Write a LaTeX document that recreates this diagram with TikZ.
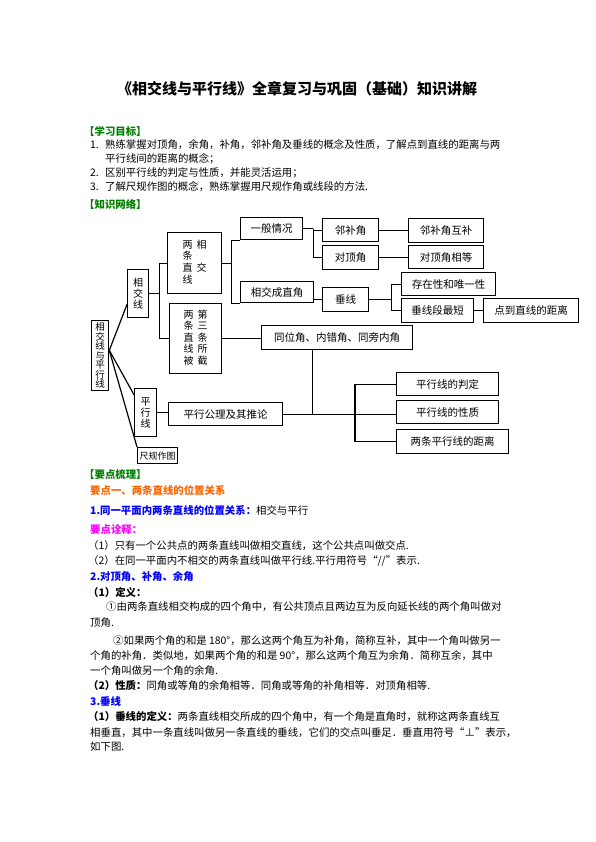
\documentclass[tikz,border=0pt]{standalone}
\usepackage{fontspec}
\setmainfont{Noto Sans CJK SC}
\definecolor{kgreen}{RGB}{0,128,0}
\definecolor{korange}{RGB}{255,102,0}
\definecolor{kblue}{RGB}{0,0,255}
\definecolor{kmag}{RGB}{255,0,255}
\tikzset{box/.style={draw, line width=1.3pt, inner sep=0pt, anchor=north west,
    font=\fontsize{10.5}{11}\selectfont}}
\tikzset{vbox/.style={box, align=center, font=\fontsize{10}{10.7}\selectfont}}
\tikzset{conn/.style={line width=1.2pt}}
\tikzset{txt/.style={anchor=west, inner sep=0pt, font=\fontsize{10.4}{12}\selectfont}}
\tikzset{head/.style={txt, font=\fontsize{10.4}{12}\selectfont\bfseries}}

\begin{document}
\begin{tikzpicture}[x=1pt, y=-1pt]
    \fill[white] (0,0) rectangle (595,842);
    \useasboundingbox (0,0) rectangle (595,842);

    % header text
    \node[font=\fontsize{15}{17}\selectfont\bfseries, inner sep=0pt] (ttl) at (297,89) {《相交线与平行线》全章复习与巩固（基础）知识讲解};
    \node[head, text=kgreen] (xxmb) at (84,131) {【学习目标】};
    \node[txt] (m1) at (90,145) {\makebox[15pt][l]{1.}熟练掌握对顶角，余角，补角，邻补角及垂线的概念及性质，了解点到直线的距离与两};
    \node[txt] (m1b) at (105,159) {平行线间的距离的概念；};
    \node[txt] (m2) at (90,173) {\makebox[15pt][l]{2.}区别平行线的判定与性质，并能灵活运用；};
    \node[txt] (m3) at (90,187) {\makebox[15pt][l]{3.}了解尺规作图的概念，熟练掌握用尺规作角或线段的方法.};
    \node[head, text=kgreen] (zswl) at (84,204) {【知识网络】};

    % boxes
    \node[vbox, minimum width=17pt, minimum height=70pt, font=\fontsize{9.5}{9.5}\selectfont] (main) at (91,320) {相\\交\\线\\与\\平\\行\\线};
    \node[vbox, minimum width=21pt, minimum height=48pt, font=\fontsize{10}{11}\selectfont] (xjx) at (127,269) {相\\交\\线};
    \node[vbox, minimum width=22pt, minimum height=48pt, font=\fontsize{10}{11}\selectfont] (pxx) at (134,388) {平\\行\\线};
    \node[box, minimum width=40pt, minimum height=16pt, font=\fontsize{9}{10}\selectfont] (cgzt) at (137,447) {尺规作图};
    \node[vbox, minimum width=54pt, minimum height=61pt] (lxj) at (167,232)
        {\begin{tabular}{@{}c@{\hspace{4pt}}c@{}}两&相\\条&\\直&交\\线&\end{tabular}};
    \node[vbox, minimum width=52pt, minimum height=70pt] (ljj) at (169,303)
        {\begin{tabular}{@{}c@{\hspace{4pt}}c@{}}两&第\\条&三\\直&条\\线&所\\被&截\end{tabular}};
    \node[box, minimum width=62pt, minimum height=22pt] (ybqk) at (240,217) {一般情况};
    \node[box, minimum width=73pt, minimum height=21pt] (xjzj) at (240,281) {相交成直角};
    \node[box, minimum width=56pt, minimum height=23pt] (lbj) at (322,218) {邻补角};
    \node[box, minimum width=56pt, minimum height=24pt] (ddj) at (322,245) {对顶角};
    \node[box, minimum width=75pt, minimum height=24pt] (lbjhb) at (408,218) {邻补角互补};
    \node[box, minimum width=75pt, minimum height=23pt] (ddjxd) at (408,245) {对顶角相等};
    \node[box, minimum width=46pt, minimum height=24pt] (cx) at (322,287) {垂线};
    \node[box, minimum width=94pt, minimum height=23pt] (czx) at (401,272) {存在性和唯一性};
    \node[box, minimum width=72pt, minimum height=24pt] (cxdzd) at (401,298) {垂线段最短};
    \node[box, minimum width=95pt, minimum height=24pt] (ddzx) at (483,298) {点到直线的距离};
    \node[box, minimum width=151pt, minimum height=24pt] (twj) at (261,325) {同位角、内错角、同旁内角};
    \node[box, minimum width=114pt, minimum height=23pt] (pxgl) at (168,402) {平行公理及其推论};
    \node[box, minimum width=102pt, minimum height=23pt] (pxpd) at (396,372) {平行线的判定};
    \node[box, minimum width=102pt, minimum height=23pt] (pxxz) at (396,400) {平行线的性质};
    \node[box, minimum width=112pt, minimum height=24pt] (lpj) at (396,429) {两条平行线的距离};

    % connectors
    \draw[conn] (main.30) -- (xjx.224);
    \draw[conn] (main.30) -- (pxx.123);
    \draw[conn] (main.30) -- (cgzt.north west);
    \draw[conn] (xjx.east) -- ++(10,0) coordinate (s1);
    \draw[conn] (lxj.west) -| (s1) |- (ljj.west);
    \draw[conn] (lxj.east) -- ++(9,0) coordinate (s2);
    \draw[conn] (ybqk.south west) -| (s2) |- (xjzj.south west);
    \draw[conn] (ybqk.east) -- ++(10,0) coordinate (s3);
    \draw[conn] (lbj.west) -| (s3) |- (ddj.west);
    \draw[conn] (lbj.east) -- (lbj.east -| lbjhb.west);
    \draw[conn] (ddj.east) -- (ddj.east -| ddjxd.west);
    \draw[conn] (xjzj.east |- cx.west) -- (cx.west);
    \draw[conn] (cx.east) -- ++(22,0) coordinate (s4);
    \draw[conn] (czx.west) -| (s4) |- (cxdzd.west);
    \draw[conn] (cxdzd.east) -- (cxdzd.east -| ddzx.west);
    \draw[conn] (ljj.east) -- (ljj.east -| twj.west);
    \draw[conn] (pxx.east) -- (pxx.east -| pxgl.west);
    \draw[conn] (pxgl.east) -- (pxgl.east -| pxxz.west);
    \draw[conn] (twj.207) -- (twj.207 |- pxgl.east);
    \coordinate (s5) at (355,0 |- pxgl.east);
    \draw[conn] (pxpd.west) -| (s5) |- (lpj.west);

    % key points text
    \node[head, text=kgreen] (ydsl) at (84,475) {【要点梳理】};
    \node[head, text=korange] (yd1) at (90,490) {要点一、两条直线的位置关系};
    \node[txt] (p1) at (90,510) {\textcolor{kblue}{\bfseries 1.同一平面内两条直线的位置关系：}相交与平行};
    \node[head, text=kmag] (ydqs) at (90,529) {要点诠释：};
    \node[txt] (q1) at (88,546) {（1）只有一个公共点的两条直线叫做相交直线，这个公共点叫做交点.};
    \node[txt] (q2) at (88,561) {（2）在同一平面内不相交的两条直线叫做平行线.平行用符号“//”表示.};
    \node[head, text=kblue] (yd2) at (90,577) {2.对顶角、补角、余角};
    \node[head] (dy) at (88,593) {（1）定义：};
    \node[txt] (d1) at (106,607) {①由两条直线相交构成的四个角中，有公共顶点且两边互为反向延长线的两个角叫做对};
    \node[txt] (d1b) at (90,623) {顶角.};
    \node[txt] (d2) at (113,641) {②如果两个角的和是 180°，那么这两个角互为补角，简称互补，其中一个角叫做另一};
    \node[txt] (d2b) at (90,656) {个角的补角．类似地，如果两个角的和是 90°，那么这两个角互为余角．简称互余，其中};
    \node[txt] (d2c) at (90,671) {一个角叫做另一个角的余角.};
    \node[txt] (xz) at (88,686) {{\bfseries（2）性质：}同角或等角的余角相等．同角或等角的补角相等．对顶角相等.};
    \node[head, text=kblue] (yd3) at (90,702) {3.垂线};
    \node[txt] (c1) at (88,717) {{\bfseries（1）垂线的定义：}两条直线相交所成的四个角中，有一个角是直角时，就称这两条直线互};
    \node[txt] (c1b) at (90,733) {相垂直，其中一条直线叫做另一条直线的垂线，它们的交点叫垂足．垂直用符号“⊥”表示，};
    \node[txt] (c1c) at (90,747) {如下图.};
\end{tikzpicture}
\end{document}
